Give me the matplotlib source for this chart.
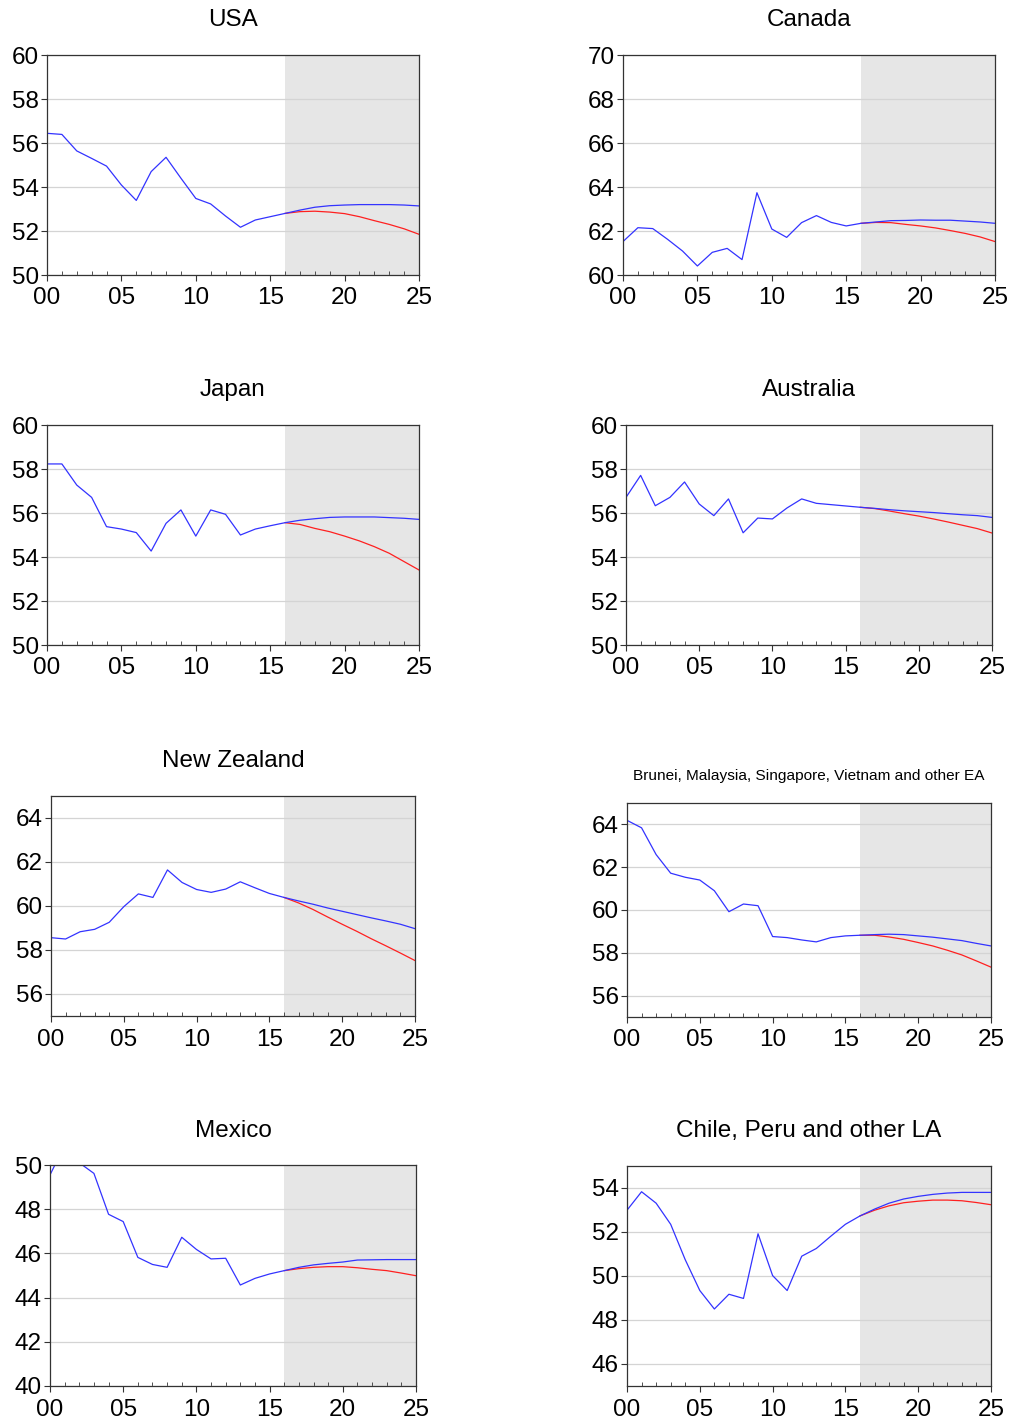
import matplotlib
matplotlib.use("Agg")
import matplotlib.pyplot as plt
from matplotlib.ticker import MultipleLocator, FuncFormatter

plt.rcParams['font.family'] = ['Liberation Sans', 'DejaVu Sans']
plt.rcParams['xtick.labelsize'] = 17.5
plt.rcParams['ytick.labelsize'] = 17.5

years = list(range(2000, 2026))
years_fc = list(range(2016, 2026))

# blue = history 2000-2016 + baseline projection 2017-2025, red = alternative 2016-2025
usa_blue = [56.44, 56.39, 55.64, 55.30, 54.95, 54.09, 53.39, 54.70, 55.35, 54.40, 53.48, 53.23, 52.68,
            52.17, 52.50, 52.65, 52.80, 52.95, 53.08, 53.15, 53.18, 53.20, 53.20, 53.20, 53.18, 53.14]
usa_red = [52.80, 52.88, 52.90, 52.86, 52.79, 52.65, 52.47, 52.30, 52.10, 51.85]

canada_blue = [61.52, 62.15, 62.11, 61.62, 61.09, 60.41, 61.03, 61.21, 60.70, 63.74, 62.09, 61.71, 62.38,
               62.70, 62.39, 62.23, 62.35, 62.41, 62.47, 62.48, 62.50, 62.49, 62.49, 62.45, 62.41, 62.35]
canada_red = [62.35, 62.39, 62.38, 62.30, 62.23, 62.14, 62.02, 61.89, 61.73, 61.52]

japan_blue = [58.23, 58.23, 57.27, 56.71, 55.38, 55.27, 55.11, 54.27, 55.53, 56.14, 54.95, 56.14, 55.94,
              55.00, 55.27, 55.42, 55.56, 55.67, 55.74, 55.80, 55.82, 55.82, 55.82, 55.79, 55.76, 55.71]
japan_red = [55.56, 55.48, 55.30, 55.15, 54.95, 54.73, 54.47, 54.17, 53.79, 53.41]

australia_blue = [56.71, 57.71, 56.33, 56.71, 57.41, 56.41, 55.88, 56.64, 55.10, 55.77, 55.73, 56.23, 56.64,
                  56.44, 56.38, 56.32, 56.26, 56.21, 56.15, 56.10, 56.06, 56.02, 55.97, 55.92, 55.88, 55.80]
australia_red = [56.26, 56.20, 56.09, 55.97, 55.86, 55.73, 55.59, 55.44, 55.29, 55.09]

nz_blue = [58.56, 58.50, 58.83, 58.94, 59.26, 59.97, 60.55, 60.39, 61.64, 61.07, 60.75, 60.62, 60.77,
           61.10, 60.83, 60.57, 60.39, 60.23, 60.08, 59.91, 59.76, 59.61, 59.46, 59.32, 59.17, 58.97]
nz_red = [60.39, 60.14, 59.84, 59.50, 59.17, 58.85, 58.51, 58.19, 57.86, 57.52]

ea_blue = [64.19, 63.84, 62.59, 61.72, 61.53, 61.40, 60.90, 59.92, 60.28, 60.20, 58.76, 58.71, 58.60,
           58.51, 58.71, 58.79, 58.82, 58.85, 58.87, 58.85, 58.79, 58.73, 58.65, 58.57, 58.44, 58.32]
ea_red = [58.82, 58.82, 58.74, 58.63, 58.48, 58.32, 58.12, 57.90, 57.62, 57.33]

mexico_blue = [49.55, 50.90, 50.10, 49.62, 47.77, 47.44, 45.82, 45.50, 45.37, 46.73, 46.18, 45.75, 45.78,
               44.57, 44.87, 45.07, 45.22, 45.37, 45.48, 45.55, 45.61, 45.70, 45.71, 45.72, 45.72, 45.72]
mexico_red = [45.22, 45.31, 45.37, 45.40, 45.40, 45.35, 45.28, 45.22, 45.11, 44.99]

chile_blue = [52.99, 53.83, 53.31, 52.35, 50.74, 49.34, 48.50, 49.17, 48.98, 51.92, 50.02, 49.34, 50.90,
              51.25, 51.81, 52.35, 52.73, 53.04, 53.31, 53.50, 53.62, 53.71, 53.77, 53.80, 53.80, 53.80]
chile_red = [52.73, 52.99, 53.19, 53.33, 53.40, 53.45, 53.45, 53.42, 53.34, 53.24]

titles = ["USA", "Canada", "Japan", "Australia", "New Zealand",
          "Brunei, Malaysia, Singapore, Vietnam and other EA", "Mexico", "Chile, Peru and other LA"]
blues = [usa_blue, canada_blue, japan_blue, australia_blue, nz_blue, ea_blue, mexico_blue, chile_blue]
reds = [usa_red, canada_red, japan_red, australia_red, nz_red, ea_red, mexico_red, chile_red]
ylims = [(50, 60), (60, 70), (50, 60), (50, 60), (55, 65), (55, 65), (40, 50), (45, 55)]

W, H = 1011, 1423
# axes boxes in pixels: left, right, top, bottom ; title centre y
boxes = [(47, 419, 55, 275), (623, 995, 55, 275),
         (47, 419, 425, 645), (626, 992, 425, 645),
         (51, 415, 796, 1016), (627, 991, 803, 1017),
         (50, 416, 1165, 1386), (627, 991, 1166, 1386)]
title_y = [20, 20, 390, 390, 761, 776, 1131, 1131]

fig = plt.figure(figsize=(W / 100, H / 100), dpi=100)

for i in range(8):
    l, r, t, b = boxes[i]
    ax = fig.add_axes([l / W, 1 - b / H, (r - l) / W, (b - t) / H])
    ax.axvspan(2016, 2025, color='#e6e6e6', lw=0, zorder=0)
    ax.grid(axis='y', color='#d4d4d4', lw=0.9, zorder=1)
    ax.set_axisbelow(False)
    ax.plot(years_fc, reds[i], color='#ff2020', lw=0.9, zorder=3)
    ax.plot(years, blues[i], color='#3333ff', lw=0.9, zorder=4)
    ax.set_xlim(2000, 2025)
    ax.set_ylim(*ylims[i])
    ax.yaxis.set_major_locator(MultipleLocator(2))
    ax.xaxis.set_major_locator(MultipleLocator(5))
    ax.xaxis.set_minor_locator(MultipleLocator(1))
    ax.xaxis.set_major_formatter(FuncFormatter(lambda v, p: "%02d" % (int(round(v)) % 100)))
    ax.tick_params(axis='x', which='major', direction='out', length=4, pad=5, color='#333333')
    ax.tick_params(axis='x', which='minor', direction='in', length=3, color='#333333')
    ax.tick_params(axis='y', which='major', direction='out', length=4, pad=2, color='#333333')
    for s in ax.spines.values():
        s.set_color('#333333')
        s.set_linewidth(0.9)
        s.set_zorder(5)
    fs = 11.1 if i == 5 else 17.5
    fig.text(((l + r) / 2) / W, 1 - title_y[i] / H, titles[i], ha='center', va='center', fontsize=fs)

fig.savefig("out.png", dpi=100, facecolor='white')
